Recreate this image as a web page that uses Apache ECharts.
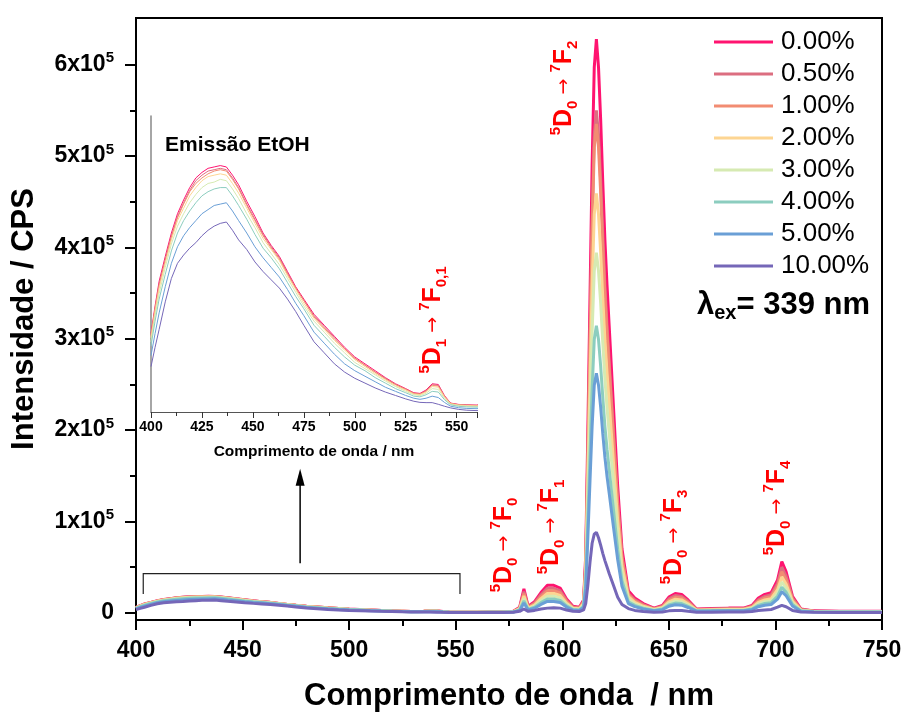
<!DOCTYPE html>
<html><head><meta charset="utf-8">
<script src="https://cdn.jsdelivr.net/npm/echarts@6/dist/echarts.min.js"></script>
<style>html,body{margin:0;padding:0;background:#fff}#c{width:904px;height:713px}</style>
</head><body><div id="c"></div>
<script>
// wavelength (nm) shared by all series
const wavelength = [400,402,404,407,410,413,416,419,422,425,428,431,434,437,440,443,447,451,455,459,463,467,471,475,480,485,490,495,500,505,510,515,520,525,529,532,535,538,541,544,547,551,555,560,
566,572,577,580,582,584,587,590,593,596,599,602,605,608,610,611,612,613,614,615,616,617,618,619,620,621,622,624,626,628,631,634,638,643,647,650,653,656,659,663,670,678,685,689,692,695,698,701,703,705,708,712,718,730,750];
// intensities in units of 10^3 CPS
const s000 = [5.7,7.7,9.5,11.3,13.0,14.4,15.4,16.3,17.0,17.4,17.7,17.8,17.9,17.8,17.2,16.5,15.3,14.2,13.0,12.1,11.3,10.2,9.1,8.2,7.1,6.3,5.5,4.7,4.0,3.5,3.0,2.5,2.05,1.7,1.4,1.35,1.6,2.05,2.0,1.2,0.65,0.55,0.52,0.5,
0.8,0.9,1.5,6,26,7,12,22,30,30,27,15,7,6,14,63,200,345,490,597,628,597,540,471,408,358,314,226,138,70,24,16,10,5,8,17,21,20,14,4,4.5,5,5,8,16,20,22,36,56,45,18,4,2,1.5,1.5];
const s050 = [5.6,7.5,9.3,11.1,12.8,14.2,15.2,16.1,16.8,17.2,17.5,17.6,17.7,17.6,17.0,16.3,15.1,14.0,12.9,12.0,11.2,10.1,9.0,8.1,7.0,6.2,5.4,4.6,3.9,3.4,2.9,2.45,2.0,1.65,1.37,1.3,1.55,1.98,1.93,1.16,0.63,0.53,0.5,0.48,
0.75,0.85,1.35,5.3,23.1,6.2,10.7,19.6,26.7,26.7,24,13.4,6.2,5.3,12.3,55.2,175,302,429,523,550,523,473,413,357,314,275,198,121,61,21,14.2,8.9,4.5,7.1,15.1,18.7,17.8,12.5,3.6,4,4.5,4.5,7.1,14.2,17.8,19.6,32,50,40,16,3.6,1.8,1.3,1.3];
const s100 = [5.5,7.5,9.2,11.0,12.7,14.1,15.1,16.0,16.6,17.0,17.3,17.5,17.6,17.5,16.9,16.2,15.0,13.9,12.8,11.9,11.1,10.0,9.0,8.1,6.9,6.1,5.3,4.6,3.9,3.4,2.9,2.4,2.0,1.65,1.35,1.3,1.5,1.94,1.88,1.14,0.62,0.52,0.49,0.47,
0.7,0.8,1.2,4.8,20.8,5.6,9.6,17.6,24,24,21.6,12,5.6,4.8,11.9,53.7,170,294,417,509,535,509,460,401,348,305,268,193,118,60,20,12.8,8,4,6.4,13.6,16.8,16,11.2,3.2,3.6,4,4,6.4,12.8,16,17.6,28.8,44.8,36,14.4,3.2,1.6,1.2,1.2];
const s200 = [5.4,7.3,9.0,10.8,12.5,13.9,14.8,15.7,16.3,16.8,17.1,17.2,17.3,17.2,16.6,15.9,14.8,13.7,12.6,11.8,11.0,9.9,8.9,7.9,6.8,6.0,5.2,4.5,3.8,3.3,2.8,2.35,1.9,1.6,1.3,1.26,1.45,1.85,1.8,1.1,0.6,0.5,0.47,0.44,
0.65,0.7,1.05,4.2,18.2,4.9,8.4,15.4,21,21,18.9,10.5,4.9,4.2,10.2,46.1,146,252,358,436,459,436,395,344,298,262,230,165,101,51,17.5,11.2,7,3.5,5.6,11.9,14.7,14,9.8,2.8,3.2,3.5,3.5,5.6,11.2,14,15.4,25.2,39.2,31.5,12.6,2.8,1.4,1.1,1.1];
const s300 = [5.1,7.0,8.6,10.5,12.2,13.5,14.4,15.2,15.8,16.3,16.6,16.7,16.9,16.8,16.2,15.5,14.4,13.4,12.3,11.5,10.7,9.7,8.7,7.7,6.6,5.8,5.0,4.3,3.6,3.15,2.7,2.25,1.85,1.5,1.25,1.19,1.35,1.7,1.64,1.0,0.56,0.46,0.42,0.4,
0.6,0.65,0.9,3.6,15.6,4.2,7.2,13.2,18,18,16.2,9,4.2,3.6,8.8,39.5,125,216,307,374,394,374,339,295,256,224,197,142,87,44,15,9.6,6,3,4.8,10.2,12.6,12,8.4,2.4,2.7,3,3,4.8,9.6,12,13.2,21.6,33.6,27,10.8,2.4,1.2,0.9,0.9];
const s400 = [4.8,6.6,8.2,10.0,11.7,13.0,13.9,14.6,15.2,15.7,16.0,16.2,16.3,16.3,15.7,15.0,14.0,12.9,11.9,11.2,10.4,9.4,8.4,7.5,6.3,5.5,4.7,4.0,3.4,3.0,2.5,2.1,1.7,1.4,1.15,1.1,1.25,1.5,1.45,0.9,0.52,0.41,0.37,0.35,
0.5,0.55,0.8,3,13,3.5,6,11,15,15,13.5,7.5,3.5,3,7,31.5,100,173,245,299,314,299,270,236,204,179,157,113,69,35,12,8,5,2.5,4,8.5,10.5,10,7,2,2.3,2.5,2.5,4,8,10,11,18,28,22.5,9,2,1,0.8,0.8];
const s500 = [4.1,5.7,7.2,9.1,10.8,12.0,12.8,13.4,13.9,14.4,14.7,15.0,15.1,15.2,14.6,13.9,13.0,12.0,11.2,10.5,9.8,8.9,7.9,7.0,5.8,5.0,4.2,3.5,3.0,2.6,2.2,1.8,1.5,1.2,1.0,0.92,1.0,1.15,1.05,0.7,0.42,0.31,0.26,0.24,
0.4,0.45,0.65,2.5,10.7,2.9,4.9,9,12.3,12.3,11.1,6.2,2.9,2.5,5.8,26.3,83,144,204,249,262,249,225,196,170,149,131,94,58,29,10,6.6,4.1,2.1,3.3,7,8.6,8.2,5.7,1.6,1.8,2.1,2.1,3.3,6.6,8.2,9,14.8,23,18.5,7.4,1.6,0.8,0.6,0.6];
const s1000 = [3.3,4.7,6.0,8.0,9.7,10.8,11.4,11.9,12.3,12.8,13.2,13.5,13.7,13.8,13.2,12.5,11.8,10.9,10.2,9.6,9.0,8.2,7.3,6.3,5.1,4.3,3.5,2.9,2.45,2.1,1.75,1.45,1.2,0.95,0.78,0.7,0.68,0.68,0.56,0.42,0.3,0.19,0.13,0.1,
0.2,0.3,0.5,1.5,4,1.5,2.5,4,5,5.5,5,3,1.5,1.2,3,10,30,55,76,86,88,82,74,65,57,50,43,30,17,9,4.5,2.5,1.2,0.6,0.8,2,2.5,2.5,1.5,0.6,0.6,0.7,0.7,1.2,2.5,3,3.5,6,8,6.5,2.5,0.7,0.4,0.3,0.3];

const seriesNames = ['0.00%','0.50%','1.00%','2.00%','3.00%','4.00%','5.00%','10.00%'];
const seriesColors = ['#FF1470','#DC6E80','#F28C72','#FDD592','#D6EAB2','#8CCDBF','#6A9FD6','#7567B8'];
const yTickValues = [0,100,200,300,400,500,600];
const yMinorTickValues = [50,150,250,350,450,550];

const FONT = '"Liberation Sans", Arial, Helvetica, sans-serif';
const allData = [s000,s050,s100,s200,s300,s400,s500,s1000];
const pairs = arr => wavelength.map((w,i)=>[w,arr[i]]);

const chart = echarts.init(document.getElementById('c'), null, {renderer:'canvas'});

const mainSeries = allData.map((d,i)=>({
  name: seriesNames[i], type:'line', xAxisIndex:0, yAxisIndex:0, data:pairs(d),
  showSymbol:false, symbol:'none', silent:true, color:seriesColors[i],
  lineStyle:{width:3, color:seriesColors[i]}, z:2+i
}));
const insetSeries = allData.map((d,i)=>({
  name: seriesNames[i], type:'line', xAxisIndex:1, yAxisIndex:2, data:pairs(d),
  showSymbol:false, symbol:'none', silent:true, color:seriesColors[i],
  lineStyle:{width:1, color:seriesColors[i]}, z:20+i
}));

function trans(sub, subs){ // rich text of a transition label
  return '{sp|5}{b|D}{sb|'+sub+'}{ar| \u2192 }{sp|7}{b|F}{sb|'+subs+'}';
}
const redRich = {
  b:{fontSize:25, fontWeight:'bold', fill:'#FF0000', fontFamily:FONT, lineHeight:32},
  sp:{fontSize:15, fontWeight:'bold', fill:'#FF0000', fontFamily:FONT, verticalAlign:'top', lineHeight:15},
  sb:{fontSize:15, fontWeight:'bold', fill:'#FF0000', fontFamily:FONT, verticalAlign:'bottom', lineHeight:15},
  ar:{fontSize:19, fill:'#FF0000', fontFamily:'"DejaVu Sans", sans-serif', lineHeight:32}
};
function label(x,y,text){
  return {type:'text', x:x, y:y, rotation:Math.PI/2, z:100,
    style:{text:text, rich:redRich, align:'center', verticalAlign:'middle', fill:'#FF0000'}};
}

const option = {
  animation:false,
  backgroundColor:'#fff',
  grid:[
    {left:136, top:18, width:746, height:602, show:true, borderColor:'#000', borderWidth:2, backgroundColor:'transparent', outerBoundsMode:'none', containLabel:false},
    {left:151, top:116, width:326, height:296, outerBoundsMode:'none', containLabel:false}
  ],
  xAxis:[
    {gridIndex:0, type:'value', min:400, max:750, interval:50,
     axisLine:{onZero:false, lineStyle:{color:'#000', width:2}},
     axisTick:{length:10, lineStyle:{color:'#000', width:2}},
     minorTick:{show:true, splitNumber:2, length:6, lineStyle:{color:'#000', width:2}},
     splitLine:{show:false}, minorSplitLine:{show:false},
     axisLabel:{fontSize:23, fontWeight:'bold', color:'#000', margin:19, fontFamily:FONT},
     name:'Comprimento de onda  / nm', nameLocation:'middle', nameGap:61,
     nameTextStyle:{fontSize:31, fontWeight:'bold', color:'#000', fontFamily:FONT}},
    {gridIndex:1, type:'value', min:400, max:560, interval:25,
     axisLine:{onZero:false, lineStyle:{color:'#555', width:1}},
     axisTick:{length:6, lineStyle:{color:'#333', width:1}},
     minorTick:{show:true, splitNumber:2, length:4, lineStyle:{color:'#333', width:1}},
     splitLine:{show:false}, minorSplitLine:{show:false},
     axisLabel:{fontSize:14, fontWeight:'bold', color:'#000', margin:8, fontFamily:FONT},
     name:'Comprimento de onda / nm', nameLocation:'middle', nameGap:32,
     nameTextStyle:{fontSize:15.5, fontWeight:'bold', color:'#000', fontFamily:FONT}}
  ],
  yAxis:[
    {gridIndex:0, type:'value', position:'left', min:-8, max:651,
     axisLine:{show:true, onZero:false, lineStyle:{color:'#000', width:2}},
     axisTick:{show:true, length:11, customValues:yTickValues, lineStyle:{color:'#000', width:2}},
     splitLine:{show:false},
     axisLabel:{customValues:yTickValues, margin:22, color:'#000',
       formatter:v=> v===0 ? '{n|0}' : '{n|'+Math.round(v/100)+'x10}{s|5}',
       rich:{n:{fontSize:23, fontWeight:'bold', color:'#000', fontFamily:FONT, lineHeight:28},
             s:{fontSize:15, fontWeight:'bold', color:'#000', fontFamily:FONT, verticalAlign:'top', lineHeight:15}}},
     name:'Intensidade / CPS', nameLocation:'middle', nameGap:96, nameRotate:90,
     nameTextStyle:{fontSize:31, fontWeight:'bold', color:'#000', fontFamily:FONT}},
    {gridIndex:0, type:'value', position:'left', offset:0, min:-8, max:651,
     axisLine:{show:false}, splitLine:{show:false}, axisLabel:{show:false},
     axisTick:{show:true, length:6, customValues:yMinorTickValues, lineStyle:{color:'#000', width:2}}},
    {gridIndex:1, type:'value', position:'left', min:0, max:21.5,
     axisLine:{show:true, onZero:false, lineStyle:{color:'#888', width:1.5}},
     axisTick:{show:false}, axisLabel:{show:false}, splitLine:{show:false}}
  ],
  legend:{
    data:seriesNames, orient:'vertical', left:714, top:29, icon:'rect', padding:0,
    itemWidth:59, itemHeight:3, itemGap:6, selectedMode:false,
    textStyle:{fontSize:26, color:'#000', fontFamily:FONT, padding:[0,0,0,3]}
  },
  series: mainSeries.concat(insetSeries)
};
chart.setOption(option);

const P = (x,y)=>chart.convertToPixel({xAxisIndex:0, yAxisIndex:0},[x,y]);
const b1=P(403.4,20.5), b2=P(403.4,42.7), b3=P(552,42.7), b4=P(552,20.5);
const a1=P(477,54), a2=P(477,140), aTop=P(477,157.5);
chart.setOption({graphic:[
  {type:'polyline', z:50, shape:{points:[b1,b2,b3,b4]}, style:{stroke:'#222', lineWidth:1.2, fill:null}},
  {type:'line', z:50, shape:{x1:a1[0], y1:a1[1], x2:a2[0], y2:a2[1]}, style:{stroke:'#000', lineWidth:1.5}},
  {type:'polygon', z:50, shape:{points:[[aTop[0],aTop[1]],[aTop[0]-4.5,aTop[1]+17],[aTop[0]+4.5,aTop[1]+17]]}, style:{fill:'#000'}},
  {type:'text', x:165, y:145, z:100, style:{text:'Emissão EtOH', fontSize:21, fontWeight:'bold', fontFamily:FONT, fill:'#000', verticalAlign:'middle'}},
  {type:'text', x:697, y:305, z:100, style:{text:'{l|\u03bb}{sb|ex}{t|= 339 nm}', verticalAlign:'middle',
     rich:{l:{fontSize:31, fontWeight:'bold', fill:'#000', fontFamily:FONT, lineHeight:36},
           sb:{fontSize:20, fontWeight:'bold', fill:'#000', fontFamily:FONT, verticalAlign:'bottom', lineHeight:20},
           t:{fontSize:31, fontWeight:'bold', fill:'#000', fontFamily:FONT, lineHeight:36}}}},
  label(564, 88, trans('0','2')),
  label(504, 545, trans('0','0')),
  label(551, 527, trans('0','1')),
  label(674, 537, trans('0','3')),
  label(777, 508, trans('0','4')),
  label(433, 320, trans('1','0,1'))
]});
</script>
</body></html>
